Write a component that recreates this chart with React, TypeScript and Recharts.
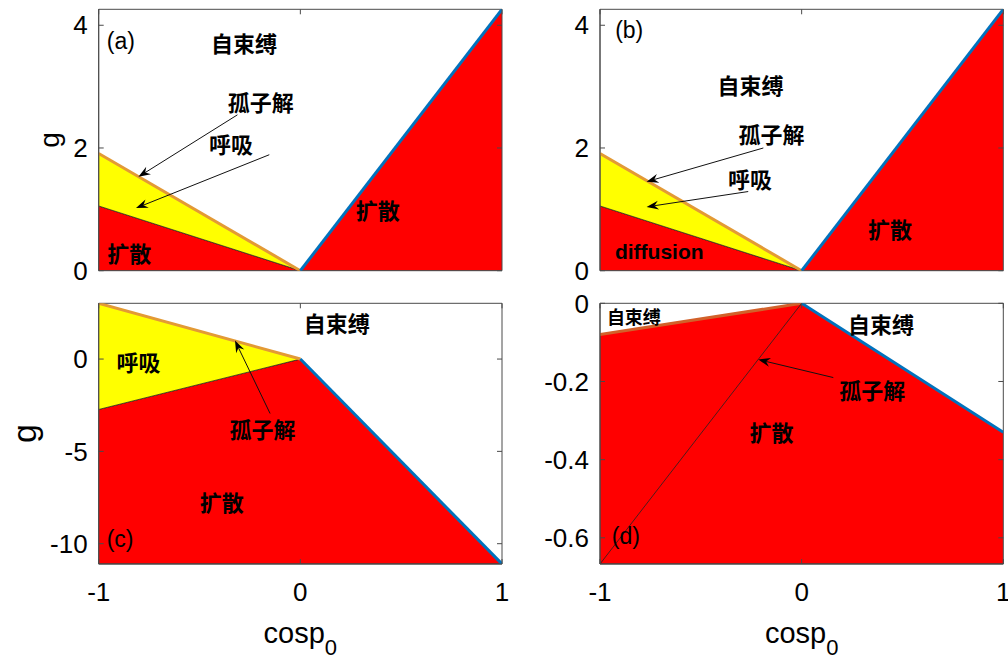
import React from 'react';
import { ComposedChart, Area, Line, XAxis, YAxis, ReferenceLine, ReferenceDot, ReferenceArea } from 'recharts';

// cos(p0) samples used by every panel
const cosP0 = [-1, 0, 1];
const xTicks = [-1, 0, 1];

// (a), (b)
const abBreatherLow = [1.055, 0, null];
const abSolitonLine = [1.91, 0, null];
const abDiffusionEdge = [null, 0, 4.26];
const abYDomain: [number, number] = [0, 4.26];
const abYTicks = [0, 2, 4];

// (c)
const cBreatherLow = [-2.73, 0, null];
const cSolitonLine = [3.02, 0, null];
const cBoundEdge = [null, 0, -11.1];
const cYDomain: [number, number] = [-11.1, 3.02];
const cYTicks = [-10, -5, 0];

// (d)
const dSolitonLine = [-0.08, 0, null];
const dBoundEdge = [null, 0, -0.33];
const dInnerLine = [-0.667, 0, null];
const dYDomain: [number, number] = [-0.667, 0];
const dYTicks = [-0.6, -0.4, -0.2, 0];

// annotations: [text, x, y]
const aNotes: [string, number, number][] = [
  ['(a)', -0.89, 3.74],
  ['自束缚', -0.28, 3.72],
  ['孤子解', -0.196, 2.77],
  ['呼吸', -0.344, 2.08],
  ['扩散', -0.848, 0.31],
  ['扩散', 0.384, 1.0],
];
const aArrows = [
  [-0.312, 2.54, -0.803, 1.53],
  [-0.154, 1.89, -0.815, 1.02],
];
const bNotes: [string, number, number][] = [
  ['(b)', -0.855, 3.93],
  ['自束缚', -0.253, 3.05],
  ['孤子解', -0.149, 2.24],
  ['呼吸', -0.256, 1.51],
  ['diffusion', -0.706, 0.31],
  ['扩散', 0.438, 0.7],
];
const bArrows = [
  [-0.19, 2.0, -0.769, 1.45],
  [-0.265, 1.29, -0.769, 1.04],
];
const cNotes: [string, number, number][] = [
  ['(c)', -0.894, -9.75],
  ['自束缚', 0.18, 2.03],
  ['呼吸', -0.803, -0.11],
  ['孤子解', -0.188, -3.71],
  ['扩散', -0.39, -7.67],
];
const cArrows = [[-0.15, -2.95, -0.324, 1.0]];
const dNotes: [string, number, number][] = [
  ['(d)', -0.872, -0.596],
  ['自束缚 ', -0.832, -0.032],
  ['自束缚', 0.393, -0.05],
  ['孤子解', 0.35, -0.219],
  ['扩散', -0.149, -0.327],
];
const dArrows = [[0.157, -0.19, -0.215, -0.144]];

const RED = '#ff0000';
const YELLOW = '#ffff00';
const BLUE = '#0072bd';
const ORANGE = '#e39a35';
const BOX = '#4a4a4a';
const LATIN = '"Liberation Sans", Arial, Helvetica, sans-serif';
const CJK = '"Noto Sans CJK SC", "Noto Sans", sans-serif';

const rng = (lo: number | null, hi: number | null) => (lo == null || hi == null ? null : [lo, hi]);

const abRows = cosP0.map((x, i) => ({
  x,
  redL: rng(abYDomain[0], abBreatherLow[i]),
  yel: rng(abBreatherLow[i], abSolitonLine[i]),
  redR: rng(abYDomain[0], abDiffusionEdge[i]),
  orange: abSolitonLine[i],
  blue: abDiffusionEdge[i],
}));

const cRows = cosP0.map((x, i) => ({
  x,
  red: rng(cYDomain[0], cBreatherLow[i] ?? cBoundEdge[i]),
  yel: rng(cBreatherLow[i], cSolitonLine[i]),
  orange: cSolitonLine[i],
  blue: cBoundEdge[i],
}));

const dRows = cosP0.map((x, i) => ({
  x,
  red: rng(dYDomain[0], dSolitonLine[i] ?? dBoundEdge[i]),
  inner: dInnerLine[i],
  orange: dSolitonLine[i],
  blue: dBoundEdge[i],
}));

function ArrowShape(p: any) {
  const { x1, y1, x2, y2 } = p;
  const a = Math.atan2(y2 - y1, x2 - x1);
  const c = Math.cos(a);
  const s = Math.sin(a);
  const len = 12;
  const half = 4.5;
  const notch = 8;
  const bx = x2 - len * c;
  const by = y2 - len * s;
  const nx = x2 - notch * c;
  const ny = y2 - notch * s;
  const pts = `${x2},${y2} ${bx - half * s},${by + half * c} ${nx},${ny} ${bx + half * s},${by - half * c}`;
  return (
    <g>
      <line x1={x1} y1={y1} x2={nx} y2={ny} stroke="#111" strokeWidth={1} />
      <polygon points={pts} fill="#000" />
    </g>
  );
}

// short inward tick on the right edge of the frame
function RightTick(p: any) {
  const xr = Math.max(p.x1, p.x2);
  return <line x1={xr - 5} y1={p.y1} x2={xr} y2={p.y1} stroke={BOX} strokeWidth={1} />;
}

// short inward tick on the top edge of the frame
function TopTick(p: any) {
  const yt = Math.min(p.y1, p.y2);
  return <line x1={p.x1} y1={yt} x2={p.x1} y2={yt + 5} stroke={BOX} strokeWidth={1} />;
}

function noteShape(text: string, small: boolean) {
  const isLatin = /^[\x00-\x7f]+$/.test(text);
  const isPanel = text.startsWith('(');
  return (p: any) => (
    <text
      x={p.cx}
      y={p.cy}
      textAnchor="middle"
      dominantBaseline="central"
      fontFamily={isLatin ? LATIN : CJK}
      fontSize={isPanel ? 23 : isLatin ? 21 : small ? 18 : 22}
      fontWeight={isPanel ? 400 : 700}
      fill="#000"
    >
      {text.trim()}
    </text>
  );
}

type PanelProps = {
  left: number;
  top: number;
  width: number;
  height: number;
  margin: { top: number; right: number; bottom: number; left: number };
  rows: any[];
  yDomain: [number, number];
  yTicks: number[];
  showX: boolean;
  yLabelX?: number;
  yLabelSize?: number;
  areas: { key: string; fill: string }[];
  lines: { key: string; color: string; width: number }[];
  notes: [string, number, number][];
  arrows: number[][];
};

function Panel(props: PanelProps) {
  const { left, top, width, height, margin, rows, yDomain, yTicks, showX, yLabelX, yLabelSize, areas, lines, notes, arrows } = props;
  const tickStyle = { fontSize: 26, fill: '#000', fontFamily: LATIN };
  return (
    <div style={{ position: 'absolute', left, top, width, height }}>
      <ComposedChart width={width} height={height} data={rows} margin={margin}>
        <XAxis
          dataKey="x"
          type="number"
          domain={[-1, 1]}
          ticks={xTicks}
          interval={0}
          allowDataOverflow
          height={showX ? 97 : 0}
          tick={showX ? tickStyle : false}
          tickSize={-5}
          tickMargin={24}
          axisLine={{ stroke: BOX }}
          tickLine={{ stroke: BOX }}
          label={
            showX
              ? {
                  content: (lp: any) => {
                    const vb = lp.viewBox;
                    const cx = vb.x + vb.width / 2;
                    return (
                      <text x={cx} y={vb.y + 79} textAnchor="middle" fontFamily={LATIN} fontSize={29} fill="#000">
                        <tspan>cosp</tspan>
                        <tspan fontSize={22} dy={12}>0</tspan>
                      </text>
                    );
                  },
                }
              : undefined
          }
        />
        <YAxis
          type="number"
          domain={yDomain}
          ticks={yTicks}
          interval={0}
          allowDataOverflow
          width={70}
          tick={tickStyle}
          tickSize={-5}
          tickMargin={16}
          axisLine={{ stroke: BOX }}
          tickLine={{ stroke: BOX }}
          label={
            yLabelX != null
              ? {
                  content: (lp: any) => {
                    const vb = lp.viewBox;
                    const cy = vb.y + vb.height / 2;
                    return (
                      <text
                        x={yLabelX}
                        y={cy}
                        transform={`rotate(-90 ${yLabelX} ${cy})`}
                        textAnchor="middle"
                        dominantBaseline="central"
                        fontFamily={LATIN}
                        fontSize={yLabelSize}
                        fill="#000"
                      >
                        g
                      </text>
                    );
                  },
                }
              : undefined
          }
        />
        {areas.map((a) => (
          <Area
            key={a.key}
            dataKey={a.key}
            type="linear"
            fill={a.fill}
            fillOpacity={1}
            stroke="#222"
            strokeWidth={0.7}
            dot={false}
            activeDot={false}
            isAnimationActive={false}
          />
        ))}
        {lines.map((l) => (
          <Line
            key={l.key}
            dataKey={l.key}
            type="linear"
            stroke={l.color}
            strokeWidth={l.width}
            dot={false}
            activeDot={false}
            isAnimationActive={false}
          />
        ))}
        <ReferenceArea x1={-1} x2={1} y1={yDomain[0]} y2={yDomain[1]} fill="none" stroke={BOX} strokeWidth={1} ifOverflow="visible" />
        {yTicks.map((t) => (
          <ReferenceLine key={`ry${t}`} y={t} ifOverflow="visible" shape={RightTick} />
        ))}
        {xTicks.map((t) => (
          <ReferenceLine key={`tx${t}`} x={t} ifOverflow="visible" shape={TopTick} />
        ))}
        {arrows.map((a, i) => (
          <ReferenceLine
            key={`arr${i}`}
            segment={[
              { x: a[0], y: a[1] },
              { x: a[2], y: a[3] },
            ]}
            ifOverflow="visible"
            shape={ArrowShape}
          />
        ))}
        {notes.map((n, i) => (
          <ReferenceDot
            key={`note${i}`}
            x={n[1]}
            y={n[2]}
            r={1}
            ifOverflow="visible"
            shape={noteShape(n[0], n[0].endsWith(' '))}
          />
        ))}
      </ComposedChart>
    </div>
  );
}

export default function App() {
  const topMargin = (l: number, r: number) => ({ top: 9.3, right: r, bottom: 24.3, left: l });
  const botMargin = (l: number, r: number) => ({ top: 21.3, right: r, bottom: 0, left: l });
  const abAreas = [
    { key: 'redL', fill: RED },
    { key: 'yel', fill: YELLOW },
    { key: 'redR', fill: RED },
  ];
  const abLines = [
    { key: 'orange', color: ORANGE, width: 3 },
    { key: 'blue', color: BLUE, width: 3 },
  ];
  return (
    <div style={{ position: 'absolute', left: 0, top: 0, width: 1008, height: 661, background: '#fff', fontFamily: LATIN }}>
      <Panel
        left={0}
        top={0}
        width={510}
        height={295}
        margin={topMargin(28.7, 8)}
        rows={abRows}
        yDomain={abYDomain}
        yTicks={abYTicks}
        showX={false}
        yLabelX={49}
        yLabelSize={28}
        areas={abAreas}
        lines={abLines}
        notes={aNotes}
        arrows={aArrows}
      />
      <Panel
        left={500}
        top={0}
        width={508}
        height={295}
        margin={topMargin(30, 4.7)}
        rows={abRows}
        yDomain={abYDomain}
        yTicks={abYTicks}
        showX={false}
        areas={abAreas}
        lines={abLines}
        notes={bNotes}
        arrows={bArrows}
      />
      <Panel
        left={0}
        top={282}
        width={510}
        height={379}
        margin={botMargin(28.7, 8)}
        rows={cRows}
        yDomain={cYDomain}
        yTicks={cYTicks}
        showX={true}
        yLabelX={24}
        yLabelSize={34}
        areas={[
          { key: 'red', fill: RED },
          { key: 'yel', fill: YELLOW },
        ]}
        lines={abLines}
        notes={cNotes}
        arrows={cArrows}
      />
      <Panel
        left={500}
        top={282}
        width={508}
        height={379}
        margin={botMargin(30, 4.7)}
        rows={dRows}
        yDomain={dYDomain}
        yTicks={dYTicks}
        showX={true}
        areas={[{ key: 'red', fill: RED }]}
        lines={[
          { key: 'orange', color: '#d2612a', width: 3 },
          { key: 'inner', color: '#222', width: 0.8 },
          { key: 'blue', color: BLUE, width: 3 },
        ]}
        notes={dNotes}
        arrows={dArrows}
      />
    </div>
  );
}
